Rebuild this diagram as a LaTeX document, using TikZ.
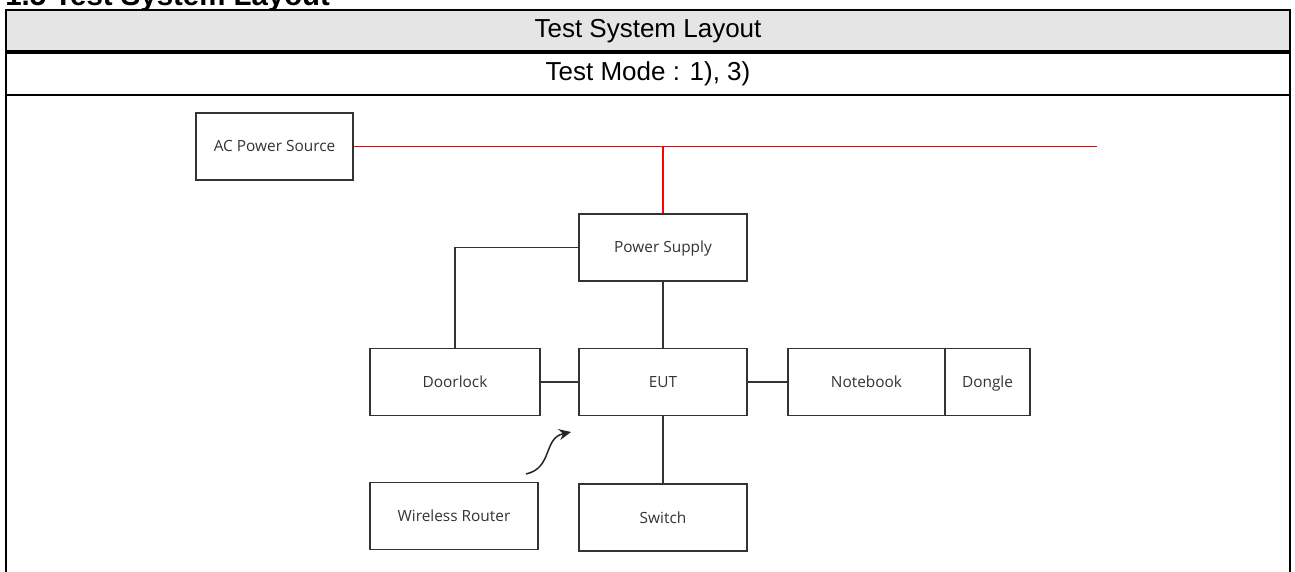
\documentclass[tikz,border=0pt]{standalone}
\usepackage{fontspec}
\setmainfont{Liberation Sans}
\newfontfamily\unitfont{Open Sans}
\usetikzlibrary{arrows.meta}
\tikzset{unit/.style={draw=black!80, line width=0.6pt, minimum height=33.5pt, inner sep=0pt, text height=0.75em, text depth=0.2em, font=\unitfont\fontsize{7.7}{9}\selectfont, text=black!80}}
\tikzset{wire/.style={black!80, line width=0.6pt}}

\begin{document}
\begin{tikzpicture}[x=0.5pt,y=-0.5pt]
\useasboundingbox (0,0) rectangle (1295,572);
\clip (0,0) rectangle (1295,572);
% heading, cut off at the top edge
\node[anchor=base west, inner sep=0, font=\bfseries\fontsize{14.7}{16}\selectfont] (head) at (5,6) {1.5 Test System Layout};
% table frame
\fill[black!10] (6,10) rectangle (1290,52);
\draw[line width=1pt] (6,590) -- (6,10) -- (1290,10) -- (1290,590);
\draw[line width=1.8pt] (6,52) -- (1290,52);
\draw[line width=1pt] (6,95) -- (1290,95);
\node[font=\fontsize{13}{15}\selectfont] (title) at (648,31) {Test System Layout};
\node[font=\fontsize{13}{15}\selectfont] (mode) at (648,73.5) {Test Mode : 1), 3)};
% units
\foreach \nm/\txt/\x/\y/\w in {ac/AC Power Source/274.5/146.5/157, ps/Power Supply/663/247.5/168,
  eut/EUT/663/382/168, door/Doorlock/455/382/170, nb/Notebook/866.5/382/157, dongle/Dongle/987.5/382/85,
  sw/Switch/663/517.5/168, router/Wireless Router/454/516/168} {
 \node[unit, minimum width=\w*0.5pt] (\nm) at (\x,\y) {\txt};
}
% AC line
\coordinate (acend) at (1097,146.5);
\draw[red, line width=0.6pt] (ac.east) -- (acend);
\draw[red, line width=0.6pt] (ps.north) -- (ps.north |- ac.east);
% cables
\draw[wire] (ps.west) -| (door.north);
\draw[wire] (ps.south) -- (eut.north);
\draw[wire] (door.east) -- (eut.west);
\draw[wire] (eut.east) -- (nb.west);
\draw[wire] (eut.south) -- (sw.north);
% wireless link
\coordinate (wl) at (526,474);
\coordinate (wltip) at (571,432);
\draw[black!85, line width=0.75pt, -{Stealth[length=6pt,width=5.5pt]}] (wl) .. controls (553,468) and (543,438) .. (wltip);
\end{tikzpicture}
\end{document}
